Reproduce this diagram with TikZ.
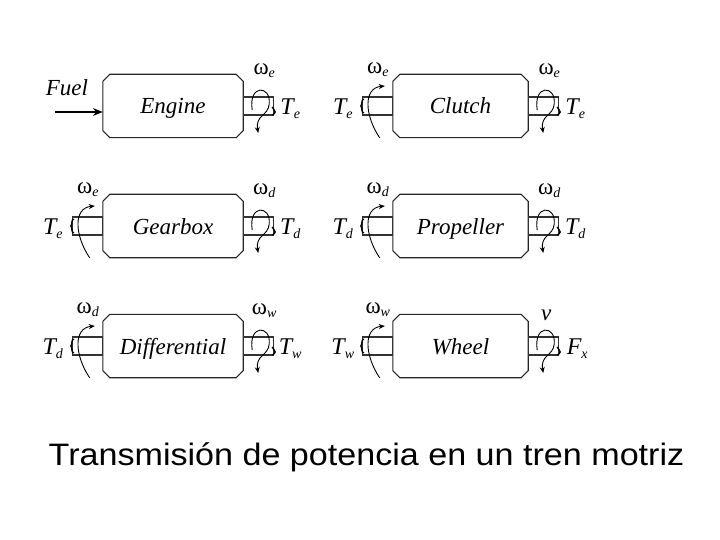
\documentclass[tikz,border=0pt]{standalone}
\usepackage{fontspec}
\setmainfont{Liberation Serif}
\newfontfamily\capfont[FakeStretch=1.1]{Liberation Sans}
\usetikzlibrary{arrows.meta}
\newcommand\wl[2]{{\fontsize{23}{23}\selectfont ω}\raisebox{-3pt}{\fontsize{14}{14}\selectfont\itshape #2}}
\newcommand\tl[2]{{\fontsize{24}{24}\selectfont\itshape #1}\raisebox{-4pt}{\fontsize{14}{14}\selectfont\itshape #2}}
\tikzset{
  unit/.style={minimum height=63pt, inner sep=0pt, text height=18pt, text depth=2pt,
    font=\fontsize{23}{23}\selectfont\itshape},
  edge/.style={line width=1.1pt, draw=black!85},
  shaftline/.style={line width=1.1pt, draw=black!80},
  spin/.style={line width=0.9pt, -{Stealth[length=6pt,width=5pt]}},
  lab/.style={inner sep=0pt}
}
\newcommand\chamferbox[1]{%
  \draw[edge] ([xshift=7pt]#1.north west) -- ([xshift=-7pt]#1.north east) -- ([yshift=-7pt]#1.north east)
   -- ([yshift=7pt]#1.south east) -- ([xshift=-7pt]#1.south east) -- ([xshift=7pt]#1.south west)
   -- ([yshift=7pt]#1.south west) -- ([yshift=-7pt]#1.north west) -- cycle;}
% right shaft: shaft rectangle, end mark and spin arrow
\newcommand\rshaftbody{%
    \draw[shaftline] (0,-9) rectangle (30,9);
    \draw[line width=1.4pt] (29,1) .. controls (32,3) and (30,5) .. (32,6) .. controls (30,7) and (32,9) .. (29,9);
    \draw[spin] (9,4) .. controls (5,-22) and (28,-21) .. (26,-2) .. controls (25,10) and (12,9) .. (15,27);}
\newcommand\rshaft[4]{%
  \begin{scope}[shift={(#1.east)}]
    \rshaftbody
    \node[lab] (#1wr) at (21,-35) {\wl{ω}{#2}};
    \node[lab] (#1tr) at (47,3) {\tl{#3}{#4}};
  \end{scope}}
\newcommand\lshaft[4]{%
  \begin{scope}[shift={(#1.west)}]
    \draw[shaftline] (-30,-9) rectangle (0,9);
    \draw[line width=1.4pt] (-29,-7) .. controls (-32,-6) and (-30,-2) .. (-32,0) .. controls (-30,2) and (-32,6) .. (-29,7);
    \draw[spin] (-13,32) .. controls (-28,10) and (-30,-18) .. (-8,-20);
    \node[lab] (#1wl) at (-15,-36) {\wl{ω}{#2}};
    \node[lab] (#1tl) at (-50,3) {\tl{#3}{#4}};
  \end{scope}}
\begin{document}
\begin{tikzpicture}[x=1pt,y=-1pt]
\useasboundingbox (0,0) rectangle (720,540);
\fill[white] (0,0) rectangle (720,540);
% boxes
\node[unit, minimum width=140pt] (eng) at (173,106) {Engine};
\node[unit, minimum width=135pt] (clu) at (460.5,106) {Clutch};
\node[unit, minimum width=140pt] (gea) at (173,226) {Gearbox};
\node[unit, minimum width=135pt] (pro) at (460.5,226) {Propeller};
\node[unit, minimum width=140pt] (dif) at (173,346) {Differential};
\node[unit, minimum width=135pt] (whe) at (460.5,346) {Wheel};
\foreach \b in {eng,clu,gea,pro,dif,whe}{\chamferbox{\b}}
% fuel input
\node[lab, font=\fontsize{23}{23}\selectfont\itshape] (fuel) at (67,88) {Fuel};
\coordinate (fuelin) at (55,112);
\draw[line width=1.1pt, -{Stealth[length=10pt,width=8pt]}] (fuelin) -- (fuelin -| eng.west);
% shafts
\rshaft{eng}{e}{T}{e}
\lshaft{clu}{e}{T}{e}
\rshaft{clu}{e}{T}{e}
\lshaft{gea}{e}{T}{e}
\rshaft{gea}{d}{T}{d}
\lshaft{pro}{d}{T}{d}
\rshaft{pro}{d}{T}{d}
\lshaft{dif}{d}{T}{d}
\rshaft{dif}{w}{T}{w}
\lshaft{whe}{w}{T}{w}
% wheel right side: v and F_x
\begin{scope}[shift={(whe.east)}]
  \rshaftbody
  \node[lab] (whev) at (18,-31) {\fontsize{23}{23}\selectfont\itshape v};
  \node[lab] (whef) at (49,3) {\tl{F}{x}};
\end{scope}
% caption
\node[lab, font=\capfont\fontsize{31}{36}\selectfont] (cap) at (366.5,457) {Transmisión de potencia en un tren motriz};
\end{tikzpicture}
\end{document}
